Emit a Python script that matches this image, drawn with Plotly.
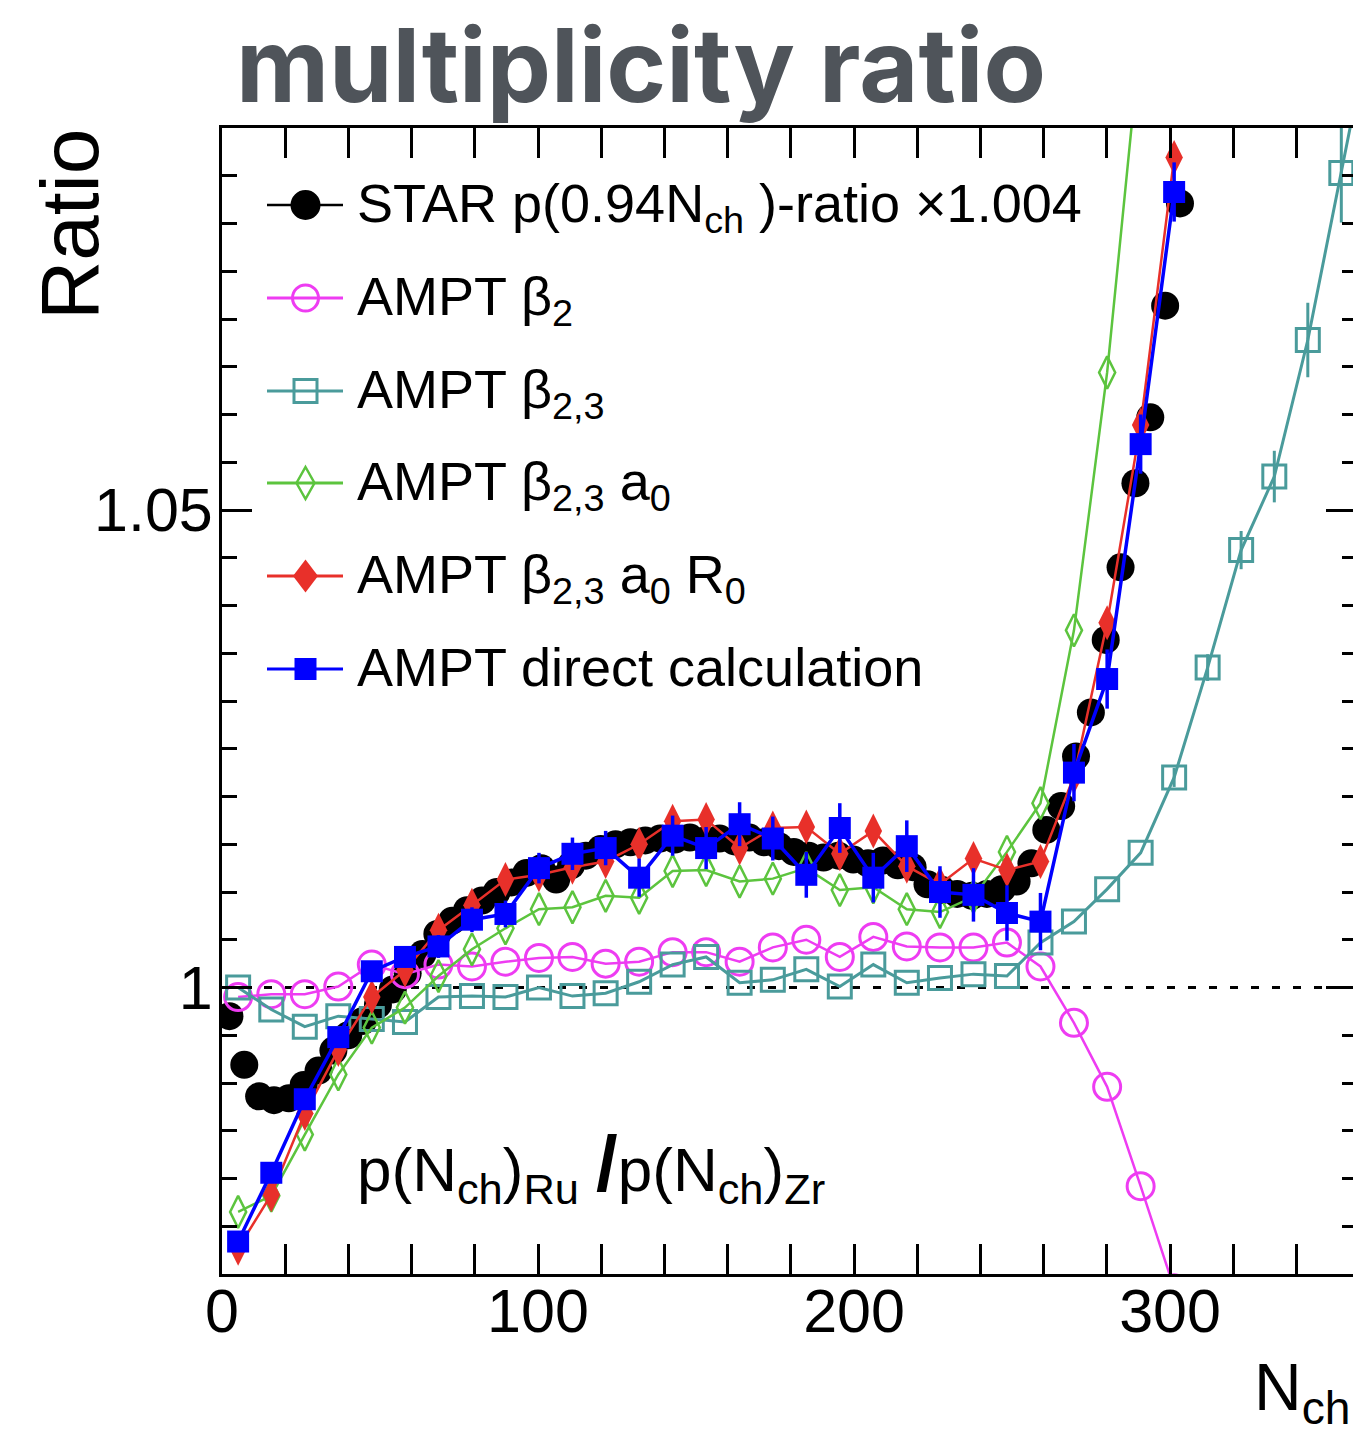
import plotly.graph_objects as go

# ---------------- data ----------------
star_x = [2.35, 7.05, 11.75, 16.45, 21.15, 25.85, 30.55, 35.25, 39.95, 44.65,
          49.35, 54.05, 58.75, 63.45, 68.15, 72.85, 77.55, 82.25, 86.95, 91.65,
          96.35, 101.05, 105.75, 110.45, 115.15, 119.85, 124.55, 129.25, 133.95, 138.65,
          143.35, 148.05, 152.75, 157.45, 162.15, 166.85, 171.55, 176.25, 180.95, 185.65,
          190.35, 195.05, 199.75, 204.45, 209.15, 213.85, 218.55, 223.25, 227.95, 232.65,
          237.35, 242.05, 246.75, 251.45, 256.15, 260.85, 265.55, 270.25, 274.95, 279.65,
          284.35, 289.05, 293.75, 298.45, 303.15]
star_y = [0.9970, 0.9919, 0.9886, 0.9882, 0.9884, 0.9898, 0.9913, 0.9934, 0.9950, 0.9965,
          0.9982, 0.9998, 1.0015, 1.0035, 1.0056, 1.0070, 1.0081, 1.0091, 1.0100, 1.0110,
          1.0120, 1.0125, 1.0113, 1.0128, 1.0138, 1.0145, 1.0150, 1.0152, 1.0154, 1.0156,
          1.0155, 1.0157, 1.0154, 1.0156, 1.0153, 1.0157, 1.0152, 1.0148, 1.0142, 1.0138,
          1.0136, 1.0138, 1.0134, 1.0130, 1.0133, 1.0128, 1.0126, 1.0108, 1.0102, 1.0098,
          1.0096, 1.0098, 1.0103, 1.0111, 1.0130, 1.0165, 1.0190, 1.0242, 1.0288, 1.0364,
          1.0440, 1.0528, 1.0597, 1.0714, 1.0821]

ampt_x = [5.1, 15.6, 26.2, 36.8, 47.4, 57.9, 68.5, 79.1, 89.7, 100.3,
          110.9, 121.4, 132.0, 142.6, 153.2, 163.8, 174.3, 184.9, 195.5, 206.1,
          216.7, 227.2, 237.8, 248.4, 259.0, 269.6, 280.1, 290.7, 301.3]
teal_x = ampt_x + [311.9, 322.5, 333.0, 343.6, 354.2, 364.8]

beta2_y = [0.9990, 0.9993, 0.9993, 1.0001, 1.0024, 1.0014, 1.0024, 1.0022, 1.0027, 1.0031,
           1.0032, 1.0025, 1.0027, 1.0037, 1.0037, 1.0027, 1.0042, 1.0050, 1.0032, 1.0053,
           1.0043, 1.0042, 1.0042, 1.0047, 1.0022, 0.9963, 0.9896, 0.9792, 0.9685]
beta23_y = [1.0000, 0.9977, 0.9959, 0.9970, 0.9967, 0.9964, 0.9990, 0.9991, 0.9990, 1.0000,
            0.9991, 0.9994, 1.0006, 1.0024, 1.0032, 1.0005, 1.0008, 1.0019, 1.0001, 1.0024,
            1.0005, 1.0010, 1.0014, 1.0012, 1.0047, 1.0069, 1.0103, 1.0141, 1.0220, 1.0335,
            1.0458, 1.0535, 1.0678, 1.0853, 1.1030]
beta23_err = [0, 0, 0, 0, 0, 0, 0, 0, 0, 0,
              0, 0, 0, 0, 0, 0, 0, 0, 0, 0,
              0, 0, 0, 0, 0, 0, 0, 0, 0.0010, 0.0014,
              0.0020, 0.0027, 0.0039, 0.0052, 0.0060]
beta23a0_y = [0.9765, 0.9782, 0.9846, 0.9909, 0.9958, 0.9979, 1.0012, 1.0040, 1.0062, 1.0082,
              1.0084, 1.0096, 1.0094, 1.0122, 1.0123, 1.0111, 1.0114, 1.0125, 1.0102, 1.0105,
              1.0082, 1.0079, 1.0095, 1.0142, 1.0193, 1.0374, 1.0644, 1.0997]
beta23a0R0_y = [0.9727, 0.9783, 0.9868, 0.9935, 0.9990, 1.0018, 1.0060, 1.0086, 1.0113, 1.0118,
                1.0126, 1.0132, 1.0150, 1.0174, 1.0176, 1.0146, 1.0167, 1.0168, 1.0140, 1.0164,
                1.0127, 1.0108, 1.0135, 1.0123, 1.0132, 1.0221, 1.0382, 1.0589, 1.0869]
direct_y = [0.9734, 0.9806, 0.9883, 0.9948, 1.0017, 1.0032, 1.0043, 1.0071, 1.0077, 1.0125,
            1.0140, 1.0146, 1.0115, 1.0159, 1.0146, 1.0171, 1.0156, 1.0118, 1.0167, 1.0115,
            1.0148, 1.0100, 1.0097, 1.0078, 1.0069, 1.0225, 1.0323, 1.0569, 1.0833]
direct_err = [0.0006, 0.0007, 0.0008, 0.0009, 0.0010, 0.0011, 0.0012, 0.0013, 0.0014, 0.0016,
              0.0017, 0.0018, 0.0020, 0.0021, 0.0022, 0.0023, 0.0023, 0.0024, 0.0026, 0.0026,
              0.0027, 0.0027, 0.0028, 0.0029, 0.0030, 0.0030, 0.0031, 0.0031, 0.0031]

legend_labels = ["STAR p(0.94N<sub>ch</sub> )-ratio \u00d71.004",
                 "AMPT \u03b2<sub>2</sub>",
                 "AMPT \u03b2<sub>2,3</sub>",
                 "AMPT \u03b2<sub>2,3</sub> a<sub>0</sub>",
                 "AMPT \u03b2<sub>2,3</sub> a<sub>0</sub> R<sub>0</sub>",
                 "AMPT direct calculation"]
x_ticks = [0, 100, 200, 300]
y_ticks = [1, 1.05]

# ---------------- layout geometry ----------------
W, H = 1353, 1435
L, R, T, B = 222, 0, 128, 161
PW, PH = W - L - R, H - T - B
XMAX = 357.9
YMIN, YMAX = 0.97, 1.09
FONT = "Liberation Sans, Arial, Helvetica, sans-serif"

C_BLACK = "#000000"
C_MAG = "#ee3cf2"
C_TEAL = "#4a9b9b"
C_GREEN = "#5cc43e"
C_RED = "#e8302a"
C_BLUE = "#0000ff"


def px(xp):
    return (xp - L) / PW


def py(yp):
    return (H - B - yp) / PH


fig = go.Figure()

fig.add_trace(go.Scatter(x=star_x, y=star_y, mode="markers", showlegend=False,
                         marker=dict(symbol="circle", size=28, color=C_BLACK, line=dict(width=0))))
fig.add_trace(go.Scatter(x=ampt_x, y=beta2_y, mode="lines+markers", showlegend=False,
                         line=dict(color=C_MAG, width=2.5),
                         marker=dict(symbol="circle-open", size=27, color=C_MAG, line=dict(width=3))))
fig.add_trace(go.Scatter(x=teal_x, y=beta23_y, mode="lines+markers", showlegend=False,
                         line=dict(color=C_TEAL, width=3),
                         error_y=dict(type="data", array=beta23_err, visible=True, width=0,
                                      thickness=3, color=C_TEAL),
                         marker=dict(symbol="square-open", size=23, color=C_TEAL, line=dict(width=3))))
fig.add_trace(go.Scatter(x=ampt_x[:len(beta23a0_y)], y=beta23a0_y, mode="lines+markers", showlegend=False,
                         line=dict(color=C_GREEN, width=2.5),
                         marker=dict(symbol="diamond-tall-open", size=23, color=C_GREEN, line=dict(width=2.5))))
fig.add_trace(go.Scatter(x=ampt_x, y=beta23a0R0_y, mode="lines+markers", showlegend=False,
                         line=dict(color=C_RED, width=2.5),
                         marker=dict(symbol="diamond-tall", size=25, color=C_RED, line=dict(width=0))))
fig.add_trace(go.Scatter(x=ampt_x, y=direct_y, mode="lines+markers", showlegend=False,
                         line=dict(color=C_BLUE, width=3.5),
                         error_y=dict(type="data", array=direct_err, visible=True, width=0,
                                      thickness=3.5, color=C_BLUE),
                         marker=dict(symbol="square", size=22, color=C_BLUE, line=dict(width=0))))
# empty trace that carries the right-hand tick axis
fig.add_trace(go.Scatter(x=[], y=[], yaxis="y2", showlegend=False, hoverinfo="skip"))

shapes = []
# dotted reference line at ratio = 1
shapes.append(dict(type="line", xref="x", yref="y", x0=0, x1=XMAX, y0=1, y1=1, layer="below",
                   line=dict(color="black", width=3, dash="8px,13px")))

# ---------------- hand-made legend (decoration) ----------------
ROW_Y = [205, 298, 391, 483, 576, 669]
LX0, LX1, MX, TX = 267, 343, 305.5, 355
row_colors = [C_BLACK, C_MAG, C_TEAL, C_GREEN, C_RED, C_BLUE]
row_lw = [2.5, 3, 3, 3, 3, 3]
for yc, col, lw in zip(ROW_Y, row_colors, row_lw):
    shapes.append(dict(type="line", xref="paper", yref="paper", x0=px(LX0), x1=px(LX1),
                       y0=py(yc), y1=py(yc), line=dict(color=col, width=lw)))


def circ(cx, cy, r, fill, col, lw):
    return dict(type="circle", xref="paper", yref="paper", x0=px(cx - r), x1=px(cx + r),
                y0=py(cy + r), y1=py(cy - r), fillcolor=fill, line=dict(color=col, width=lw))


def rect(cx, cy, h, fill, col, lw):
    return dict(type="rect", xref="paper", yref="paper", x0=px(cx - h), x1=px(cx + h),
                y0=py(cy + h), y1=py(cy - h), fillcolor=fill, line=dict(color=col, width=lw))


def diam(cx, cy, hw, hh, fill, col, lw):
    p = (f"M {px(cx)},{py(cy - hh)} L {px(cx + hw)},{py(cy)} L {px(cx)},{py(cy + hh)} "
         f"L {px(cx - hw)},{py(cy)} Z")
    return dict(type="path", xref="paper", yref="paper", path=p, fillcolor=fill,
                line=dict(color=col, width=lw))


shapes.append(circ(MX, ROW_Y[0], 15, C_BLACK, C_BLACK, 0))
shapes.append(circ(MX, ROW_Y[1], 13, "rgba(0,0,0,0)", C_MAG, 3))
shapes.append(rect(MX, ROW_Y[2], 11.5, "rgba(0,0,0,0)", C_TEAL, 3))
shapes.append(diam(MX, ROW_Y[3], 9, 16, "rgba(0,0,0,0)", C_GREEN, 2.5))
shapes.append(diam(MX, ROW_Y[4], 12.5, 16.5, C_RED, C_RED, 0))
shapes.append(rect(MX, ROW_Y[5], 11, C_BLUE, C_BLUE, 0))

annotations = []
for yc, lab in zip(ROW_Y, legend_labels):
    annotations.append(dict(text=lab, xref="paper", yref="paper", x=px(TX), y=py(yc - 34),
                            xanchor="left", yanchor="top", showarrow=False,
                            font=dict(family=FONT, size=54, color="black")))

annotations.append(dict(text="<b>multiplicity ratio</b>", xref="paper", yref="paper",
                        x=px(234), y=py(1), xanchor="left", yanchor="top", showarrow=False,
                        font=dict(family="Inter, Lato, sans-serif", size=102, color="#4f545a")))
annotations.append(dict(text="Ratio", xref="paper", yref="paper", x=px(70), y=py(225),
                        xanchor="center", yanchor="middle", textangle=-90, showarrow=False,
                        font=dict(family=FONT, size=82, color="black")))
annotations.append(dict(text="N<sub>ch</sub>", xref="paper", yref="paper", x=px(1252), y=py(1392),
                        xanchor="left", yanchor="middle", showarrow=False,
                        font=dict(family=FONT, size=66, color="black")))
annotations.append(dict(text="p(N<sub>ch</sub>)<sub>Ru</sub> <span style='font-size:78px'><b>/</b></span>p(N<sub>ch</sub>)<sub>Zr</sub>",
                        xref="paper", yref="paper", x=px(355), y=py(1118), xanchor="left",
                        yanchor="top", showarrow=False,
                        font=dict(family=FONT, size=62, color="black")))

axis_common = dict(showgrid=False, zeroline=False, ticks="inside", tickcolor="black",
                   tickwidth=3, ticklen=30, tickfont=dict(family=FONT, size=61, color="black"))

fig.update_layout(
    width=W, height=H,
    margin=dict(l=L, r=R, t=T, b=B, pad=0),
    paper_bgcolor="white", plot_bgcolor="white",
    showlegend=False,
    xaxis=dict(range=[0, XMAX], showline=True, linecolor="black", linewidth=3, mirror="allticks",
               tickmode="array", tickvals=x_ticks, ticktext=[str(v) for v in x_ticks],
               ticklabelstandoff=-18,
               minor=dict(dtick=20, tick0=0, ticks="inside", ticklen=15, tickwidth=3, tickcolor="black"),
               **axis_common),
    yaxis=dict(range=[YMIN, YMAX], showline=True, linecolor="black", linewidth=3, mirror=False,
               tickmode="array", tickvals=y_ticks, ticktext=["1", "1.05"],
               ticklabelstandoff=-6,
               minor=dict(dtick=0.005, tick0=1, ticks="inside", ticklen=15, tickwidth=3, tickcolor="black"),
               **axis_common),
    yaxis2=dict(range=[YMIN, YMAX], overlaying="y", side="right", anchor="x", showline=False,
                showgrid=False, zeroline=False, showticklabels=False, ticks="inside",
                tickmode="array", tickvals=y_ticks, ticklen=27, tickwidth=3, tickcolor="black",
                minor=dict(dtick=0.005, tick0=1, ticks="inside", ticklen=11, tickwidth=3, tickcolor="black")),
    shapes=shapes,
    annotations=annotations,
)

fig.write_html("out.html")
